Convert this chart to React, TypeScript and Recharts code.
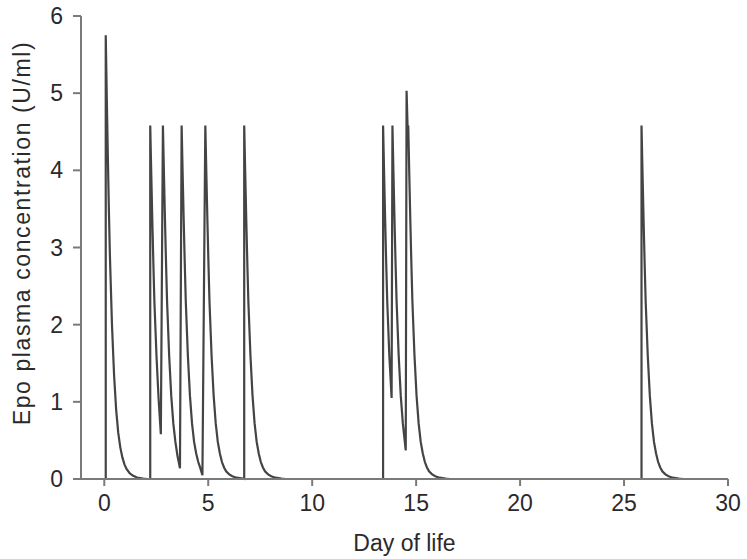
import { LineChart, Line, XAxis, YAxis } from "recharts";

// Epo plasma concentration vs day of life.
// Each dose shows as a vertical rise followed by a fast decay.
const days = [
  0.07, 0.07, 0.12, 0.17, 0.22, 0.27, 0.37, 0.47, 0.57, 0.67, 0.77, 0.87, 0.97, 1.07, 1.22, 1.37, 1.57, 1.87, 2.07,
  2.21, 2.21, 2.26, 2.31, 2.36, 2.41, 2.51, 2.61, 2.72,
  2.82, 2.87, 2.92, 2.97, 3.02, 3.12, 3.22, 3.32, 3.42, 3.52, 3.64,
  3.72, 3.77, 3.82, 3.87, 3.92, 4.02, 4.12, 4.22, 4.32, 4.42, 4.52, 4.62, 4.72,
  4.86, 4.91, 4.96, 5.01, 5.06, 5.16, 5.26, 5.36, 5.46, 5.56, 5.66, 5.76, 5.86, 6.01, 6.16, 6.36, 6.66, 6.73,
  6.73, 6.78, 6.83, 6.88, 6.93, 7.03, 7.13, 7.23, 7.33, 7.43, 7.53, 7.63, 7.73, 7.88, 8.03, 8.23, 8.53, 8.73, 13.41,
  13.41, 13.46, 13.51, 13.56, 13.61, 13.71, 13.82,
  13.86, 13.91, 13.96, 14.01, 14.06, 14.16, 14.26, 14.36, 14.5,
  14.54, 14.6, 14.62, 14.67, 14.72, 14.77, 14.82, 14.92, 15.02, 15.12, 15.22, 15.32, 15.42, 15.52, 15.62, 15.77, 15.92, 16.12, 16.42, 16.62, 25.84,
  25.84, 25.89, 25.94, 25.99, 26.04, 26.14, 26.24, 26.34, 26.44, 26.54, 26.64, 26.74, 26.84, 26.99, 27.14, 27.34, 27.64, 27.84,
];

const epo = [
  0, 5.75, 4.95, 4.2, 3.5, 2.9, 2.0, 1.35, 0.9, 0.6, 0.41, 0.28, 0.19, 0.13, 0.075, 0.045, 0.02, 0.005, 0,
  0, 4.58, 3.95, 3.35, 2.8, 2.3, 1.6, 1.05, 0.58,
  4.58, 3.95, 3.35, 2.8, 2.3, 1.6, 1.08, 0.72, 0.48, 0.3, 0.14,
  4.58, 3.95, 3.35, 2.8, 2.3, 1.6, 1.08, 0.72, 0.48, 0.33, 0.22, 0.14, 0.05,
  4.58, 3.95, 3.35, 2.8, 2.3, 1.6, 1.08, 0.72, 0.48, 0.33, 0.22, 0.15, 0.1, 0.06, 0.035, 0.017, 0.004, 0,
  4.58, 3.95, 3.35, 2.8, 2.3, 1.6, 1.08, 0.72, 0.48, 0.33, 0.22, 0.15, 0.1, 0.06, 0.035, 0.017, 0.004, 0, 0,
  4.58, 3.95, 3.35, 2.8, 2.3, 1.6, 1.05,
  4.58, 3.95, 3.35, 2.8, 2.3, 1.6, 1.08, 0.72, 0.37,
  5.03, 4.45, 4.58, 3.95, 3.35, 2.8, 2.3, 1.6, 1.08, 0.72, 0.48, 0.33, 0.22, 0.15, 0.1, 0.06, 0.035, 0.017, 0.004, 0, 0,
  4.58, 3.95, 3.35, 2.8, 2.3, 1.6, 1.08, 0.72, 0.48, 0.33, 0.22, 0.15, 0.1, 0.06, 0.035, 0.017, 0.004, 0,
];

const xTicks = [0, 5, 10, 15, 20, 25, 30];
const yTicks = [0, 1, 2, 3, 4, 5, 6];

const data = days.map((d, i) => ({ day: d, epo: epo[i] }));

const FONT = '"Liberation Sans", Arial, sans-serif';
const AXIS = "#7a7a7a";
const TEXT = "#2a2a2a";

// rotated y title, placed by hand so it can sit a bit above the axis middle
function YTitle() {
  return (
    <text
      x={22}
      y={233}
      transform="rotate(-90, 22, 233)"
      textAnchor="middle"
      dominantBaseline="central"
      fontSize={23}
      letterSpacing={1.6}
      fill={TEXT}
    >
      Epo plasma concentration (U/ml)
    </text>
  );
}

export default function App() {
  return (
    <div style={{ position: "fixed", left: 0, top: 0, background: "#fff" }}>
      <LineChart
        width={747}
        height={559}
        data={data}
        margin={{ top: 16, right: 19, left: 0, bottom: 30 }}
        style={{ fontFamily: FONT }}
      >
        <XAxis
          dataKey="day"
          type="number"
          domain={[-1.12, 30]}
          ticks={xTicks}
          height={50}
          stroke={AXIS}
          strokeWidth={2}
          tickSize={7}
          tickMargin={9}
          tick={{ fontSize: 23, fill: TEXT }}
          tickLine={{ stroke: AXIS, strokeWidth: 2 }}
          label={{ value: "Day of life", position: "bottom", offset: 6, style: { fontSize: 23, fill: TEXT } }}
        />
        <YAxis
          type="number"
          domain={[0, 6]}
          ticks={yTicks}
          width={81}
          stroke={AXIS}
          strokeWidth={2}
          tickSize={8}
          tickMargin={10}
          tick={{ fontSize: 23, fill: TEXT }}
          tickLine={{ stroke: AXIS, strokeWidth: 2 }}
          label={<YTitle />}
        />
        <Line
          dataKey="epo"
          type="linear"
          stroke="#444"
          strokeWidth={2.2}
          dot={false}
          isAnimationActive={false}
        />
      </LineChart>
    </div>
  );
}
